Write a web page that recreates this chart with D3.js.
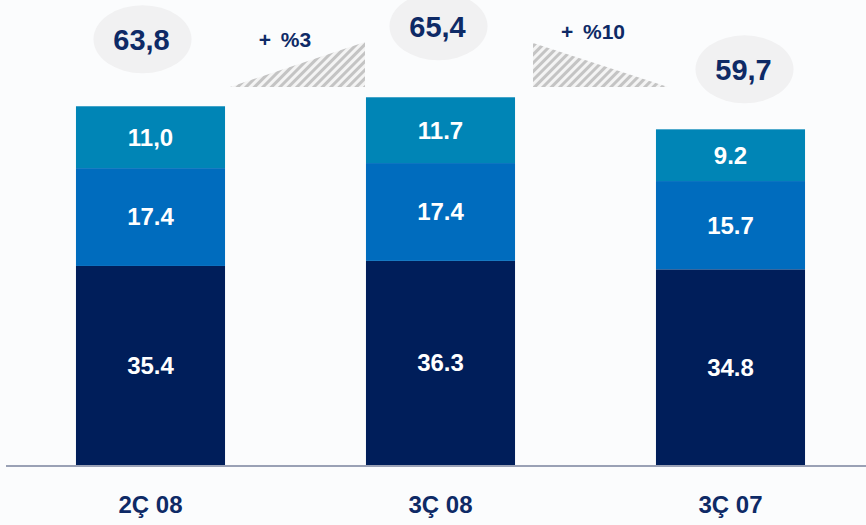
<!DOCTYPE html>
<html>
<head>
<meta charset="utf-8">
<script src="https://cdn.jsdelivr.net/npm/d3@7"></script>
<style>
  html, body { margin: 0; padding: 0; background: #fbfcfd; }
  svg { display: block; font-family: "Liberation Sans", Arial, sans-serif; }
</style>
</head>
<body>
<svg id="chart" width="866" height="525"></svg>
<script>
// ---- Data ----
const categories = ["2Ç 08", "3Ç 08", "3Ç 07"];
const bottomValues = [35.4, 36.3, 34.8];
const middleValues = [17.4, 17.4, 15.7];
const topValues = [11.0, 11.7, 9.2];
const bottomLabels = ["35.4", "36.3", "34.8"];
const middleLabels = ["17.4", "17.4", "15.7"];
const topLabels = ["11,0", "11.7", "9.2"];
const totals = [63.8, 65.4, 59.7];
const totalLabels = ["63,8", "65,4", "59,7"];
const growthLabels = ["+ %3", "+ %10"];

// ---- Setup ----
const W = 866, H = 525;
const svg = d3.select("#chart");
const colors = ["#001e5a", "#006cbe", "#0085b6"];
const navy = "#0e2a66";

const x = d3.scaleBand().domain(categories).range([5.5, 875.5])
  .paddingInner(0.486).paddingOuter(0.243);
const y = d3.scaleLinear().domain([0, 82.7]).range([465, 0]);

// hatch pattern
const defs = svg.append("defs");
const pat = defs.append("pattern").attr("id", "hatch")
  .attr("patternUnits", "userSpaceOnUse").attr("width", 6).attr("height", 6)
  .attr("patternTransform", "rotate(45)");
pat.append("rect").attr("width", 6).attr("height", 6).attr("fill", "#f4f4f4");
pat.append("rect").attr("width", 3).attr("height", 6).attr("fill", "#c4c4c4");

// stacked data
const rows = categories.map((c, i) => ({cat: c, vals: [bottomValues[i], middleValues[i], topValues[i]],
  labels: [bottomLabels[i], middleLabels[i], topLabels[i]]}));
const stack = d3.stack().keys([0, 1, 2]).value((d, k) => d.vals[k]);
const series = stack(rows);

const g = svg.append("g");
series.forEach((s, k) => {
  g.selectAll(null).data(s).enter().append("rect")
    .attr("x", d => x(d.data.cat))
    .attr("width", x.bandwidth())
    .attr("y", d => y(d[1]))
    .attr("height", d => y(d[0]) - y(d[1]))
    .attr("fill", colors[k]);
  g.selectAll(null).data(s).enter().append("text")
    .attr("x", d => x(d.data.cat) + x.bandwidth() / 2)
    .attr("y", d => (y(d[0]) + y(d[1])) / 2)
    .attr("dy", "0.35em")
    .attr("text-anchor", "middle")
    .attr("fill", "#ffffff")
    .attr("font-weight", "bold")
    .attr("font-size", 24)
    .text(d => d.data.labels[k]);
});

// baseline axis
svg.append("line").attr("x1", 6).attr("x2", W).attr("y1", y(0) + 1).attr("y2", y(0) + 1)
  .attr("stroke", "#9aa1b5").attr("stroke-width", 2);

// category labels
svg.selectAll(".cat").data(categories).enter().append("text")
  .attr("x", d => x(d) + x.bandwidth() / 2)
  .attr("y", 513)
  .attr("text-anchor", "middle")
  .attr("fill", navy)
  .attr("font-weight", "bold")
  .attr("font-size", 24)
  .text(d => d);

// total ellipses
const ellDx = [-8, -2, 14];
const ellDy = [-67, -71, -60];
totals.forEach((t, i) => {
  const cx = x(categories[i]) + x.bandwidth() / 2 + ellDx[i];
  const cy = y(t) + ellDy[i];
  svg.append("ellipse").attr("cx", cx).attr("cy", cy).attr("rx", 49).attr("ry", 34)
    .attr("fill", "#f1f1f2");
  svg.append("text").attr("x", cx - 1).attr("y", cy).attr("dy", "0.36em")
    .attr("text-anchor", "middle").attr("fill", navy).attr("font-weight", "bold")
    .attr("font-size", 29).text(totalLabels[i]);
});

// growth triangles
const b1r = x(categories[0]) + x.bandwidth();
const b2l = x(categories[1]);
const b2r = x(categories[1]) + x.bandwidth();
const b3l = x(categories[2]);
const triBase = 87, triTop = 42;
svg.append("polygon")
  .attr("points", [[b1r + 5, triBase], [b2l - 1, triBase], [b2l - 1, triTop]].map(p => p.join(",")).join(" "))
  .attr("fill", "url(#hatch)");
svg.append("polygon")
  .attr("points", [[b2r + 18, triTop + 1], [b2r + 18, triBase], [b3l + 12, triBase]].map(p => p.join(",")).join(" "))
  .attr("fill", "url(#hatch)");

svg.append("text").attr("x", 285).attr("y", 47)
  .attr("text-anchor", "middle").attr("fill", navy).attr("font-weight", "bold")
  .attr("font-size", 21).attr("word-spacing", 4)
  .text(growthLabels[0]);
svg.append("text").attr("x", 593).attr("y", 39)
  .attr("text-anchor", "middle").attr("fill", navy).attr("font-weight", "bold")
  .attr("font-size", 21).attr("word-spacing", 4)
  .text(growthLabels[1]);
</script>
</body>
</html>
